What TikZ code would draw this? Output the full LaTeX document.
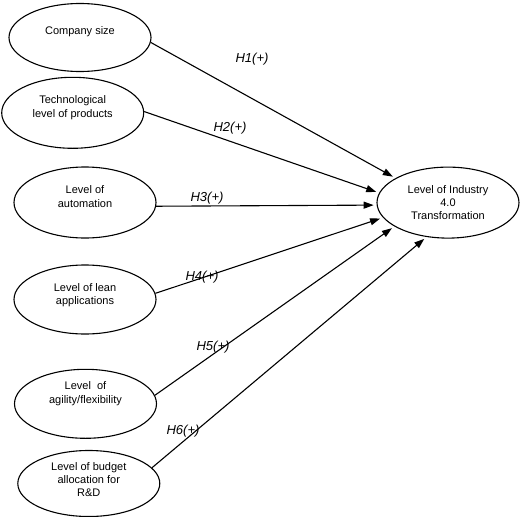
\documentclass[tikz,border=0pt]{standalone}
\usepackage{fontspec}
\setmainfont{Liberation Sans}
\usetikzlibrary{arrows.meta,
	shapes.geometric}

\begin{document}
\begin{tikzpicture}[x=1pt,y=-1pt,
        factor/.style={draw,ellipse,line width=1.1pt,minimum width=142pt,minimum height=70pt,inner sep=0pt},
        txt/.style={align=center,font=\fontsize{11}{13.3}\selectfont},
        hyp/.style={font=\fontsize{13}{15}\selectfont\itshape},
        link/.style={-{Triangle[length=10pt,width=7pt]},line width=1.1pt,shorten >=3pt}]
        \useasboundingbox (0,0) rectangle (520,517);

        %factors
        \node[factor,minimum height=68pt,label={[txt,yshift=6pt]center:{Company size}}] (size) at (80,37.5) {};
        \node[factor,minimum height=71pt,label={[txt,yshift=5pt]center:{Technological\\level of products}}] (tech) at (72.7,112.8) {};
        \node[factor,minimum height=71pt,label={[txt,yshift=6pt]center:{Level of\\automation}}] (auto) at (85,202.5) {};
        \node[factor,minimum height=69pt,label={[txt,yshift=4.5pt]center:{Level of lean\\applications}}] (lean) at (85,299.5) {};
        \node[factor,minimum height=69pt,label={[txt,yshift=10pt]center:{Level~~of\\agility/flexibility}}] (agile) at (85.5,403.8) {};
        \node[factor,minimum height=66pt,label={[txt,yshift=4pt]center:{Level of budget\\allocation for\\R\&D}}] (budget) at (88.8,483.5) {};

        %outcome
        \node[factor,minimum height=71pt,txt] (goal) at (448,202.6) {Level of Industry\\4.0\\Transformation};

        \draw[link] (size.-4) -- (goal.155);
        \draw[link] (tech.1) -- (goal.172);
        \draw[link] (auto.-3) -- (goal.-178);
        \draw[link] (lean.5) -- (goal.-167);
        \draw[link] (agile.7) -- (goal.-156);
        \draw[link] (budget.14) -- (goal.-122);

        %hypotheses
        \node[hyp] (h1) at (252,59) {H1(+)};
        \node[hyp] (h2) at (230,128) {H2(+)};
        \node[hyp] (h3) at (207,198) {H3(+)};
        \node[hyp] (h4) at (202,277) {H4(+)};
        \node[hyp] (h5) at (213,347) {H5(+)};
        \node[hyp] (h6) at (183,431) {H6(+)};
    \end{tikzpicture}
\end{document}
